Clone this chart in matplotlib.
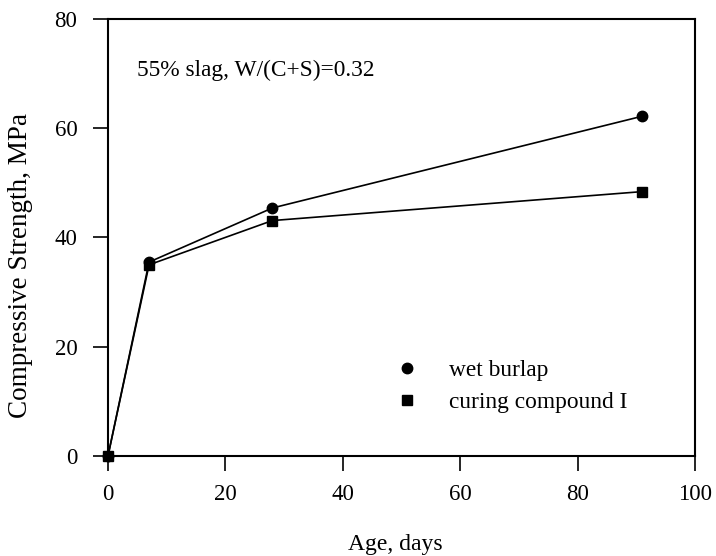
import matplotlib.pyplot as plt

plt.rcParams['font.family'] = ['Liberation Serif', 'DejaVu Serif']

age = [0, 7, 28, 91]
wet_burlap = [0, 35.5, 45.4, 62.2]
curing_compound = [0, 35.0, 43.1, 48.4]

fig = plt.figure(figsize=(7.16, 5.56), dpi=100)
ax = fig.add_axes([0.1508, 0.1799, 0.8199, 0.7859])

ax.plot(age, wet_burlap, '-o', color='black', lw=1.2, ms=7.5, label='wet burlap', clip_on=False)
ax.plot(age, curing_compound, '-s', color='black', lw=1.2, ms=6.5, label='curing compound I', clip_on=False)

ax.set_xlim(0, 100)
ax.set_ylim(0, 80)
ax.set_xticks([0, 20, 40, 60, 80, 100])
ax.set_yticks([0, 20, 40, 60, 80])
ax.tick_params(direction='out', length=11, width=1.2, labelsize=16.5)
ax.tick_params(axis='x', pad=9)
ax.tick_params(axis='y', pad=11)
for s in ax.spines.values():
    s.set_linewidth(1.5)

ax.set_xlabel('Age, days', fontsize=17)
ax.xaxis.set_label_coords(0.49, -0.178)
ax.set_ylabel('Compressive Strength, MPa', fontsize=19.5)
ax.yaxis.set_label_coords(-0.128, 0.437)
ax.text(0.05, 0.87, '55% slag, W/(C+S)=0.32', transform=ax.transAxes, fontsize=16.8)

leg = ax.legend(loc='lower left', bbox_to_anchor=(0.457, 0.05), frameon=False,
                fontsize=16.8, handlelength=0.8, handletextpad=1.4, labelspacing=0.45)
for h in leg.legend_handles:
    h.set_linestyle('')

fig.savefig('out.png', dpi=100)
